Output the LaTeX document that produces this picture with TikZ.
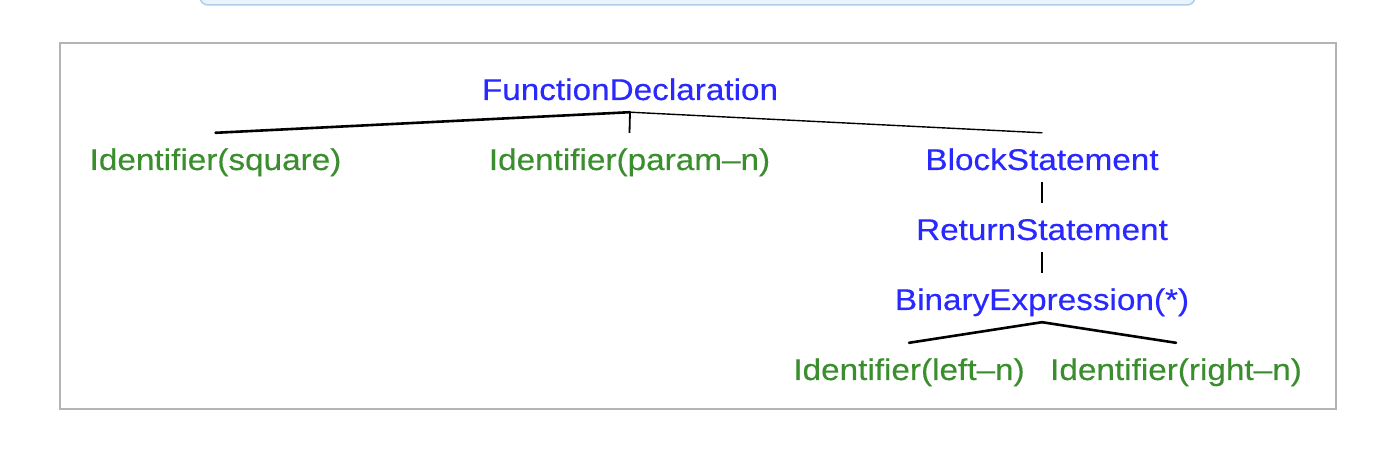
\documentclass[tikz,border=0pt]{standalone}
\usepackage{fontspec}
\setmainfont{Liberation Sans}[FakeStretch=1.11,FakeBold=0.3]
\definecolor{astblue}{RGB}{40,40,255}
\definecolor{astgreen}{RGB}{58,142,46}
\definecolor{framegray}{RGB}{180,180,180}
\definecolor{tabfill}{RGB}{232,243,252}
\definecolor{tabline}{RGB}{176,206,234}
\begin{document}
\begin{tikzpicture}[x=1pt,y=1pt,
  astnode/.style={inner sep=0pt,anchor=base,text height=37pt,text depth=12pt,
    font=\fontsize{30}{36}\selectfont},
  inner/.style={astnode,text=astblue},
  leaf/.style={astnode,text=astgreen},
  thick edge/.style={line width=2.6pt,line cap=round},
  thin edge/.style={line width=1.4pt,line cap=round},
  mid edge/.style={line width=1.8pt}
]
\useasboundingbox (0,0) rectangle (1392,458);
\fill[white] (0,0) rectangle (1392,458);
% top tab
\begin{scope}
\clip (0,0) rectangle (1392,458);
\draw[fill=tabfill,draw=tabline,line width=1.5pt,rounded corners=8pt]
  (200,470) rectangle (1195,453);
\end{scope}
% frame
\draw[framegray,line width=1.8pt] (60,415) rectangle (1336,49);
% nodes
\node[inner] (fd)  at (630,358)    {FunctionDeclaration};
\node[leaf]  (sq)  at (215.5,288)  {Identifier(square)};
\node[leaf]  (pn)  at (629.5,288)  {Identifier(param–n)};
\node[inner] (bs)  at (1042,288)   {BlockStatement};
\node[inner] (rs)  at (1042,218)   {ReturnStatement};
\node[inner] (be)  at (1042,148)   {BinaryExpression(*)};
\node[leaf]  (ln)  at (909,78)     {Identifier(left–n)};
\node[leaf]  (rn)  at (1176,78)    {Identifier(right–n)};
% edges
\draw[thick edge] (fd.south) -- (sq.north);
\draw[mid edge] (fd.south) -- (pn.north);
\draw[thin edge] (fd.south) -- (bs.north);
\draw[mid edge] (bs.south) -- (rs.north);
\draw[mid edge] (rs.south) -- (be.north);
\draw[thick edge] (be.south) -- (ln.north);
\draw[thick edge] (be.south) -- (rn.north);
\end{tikzpicture}
\end{document}
